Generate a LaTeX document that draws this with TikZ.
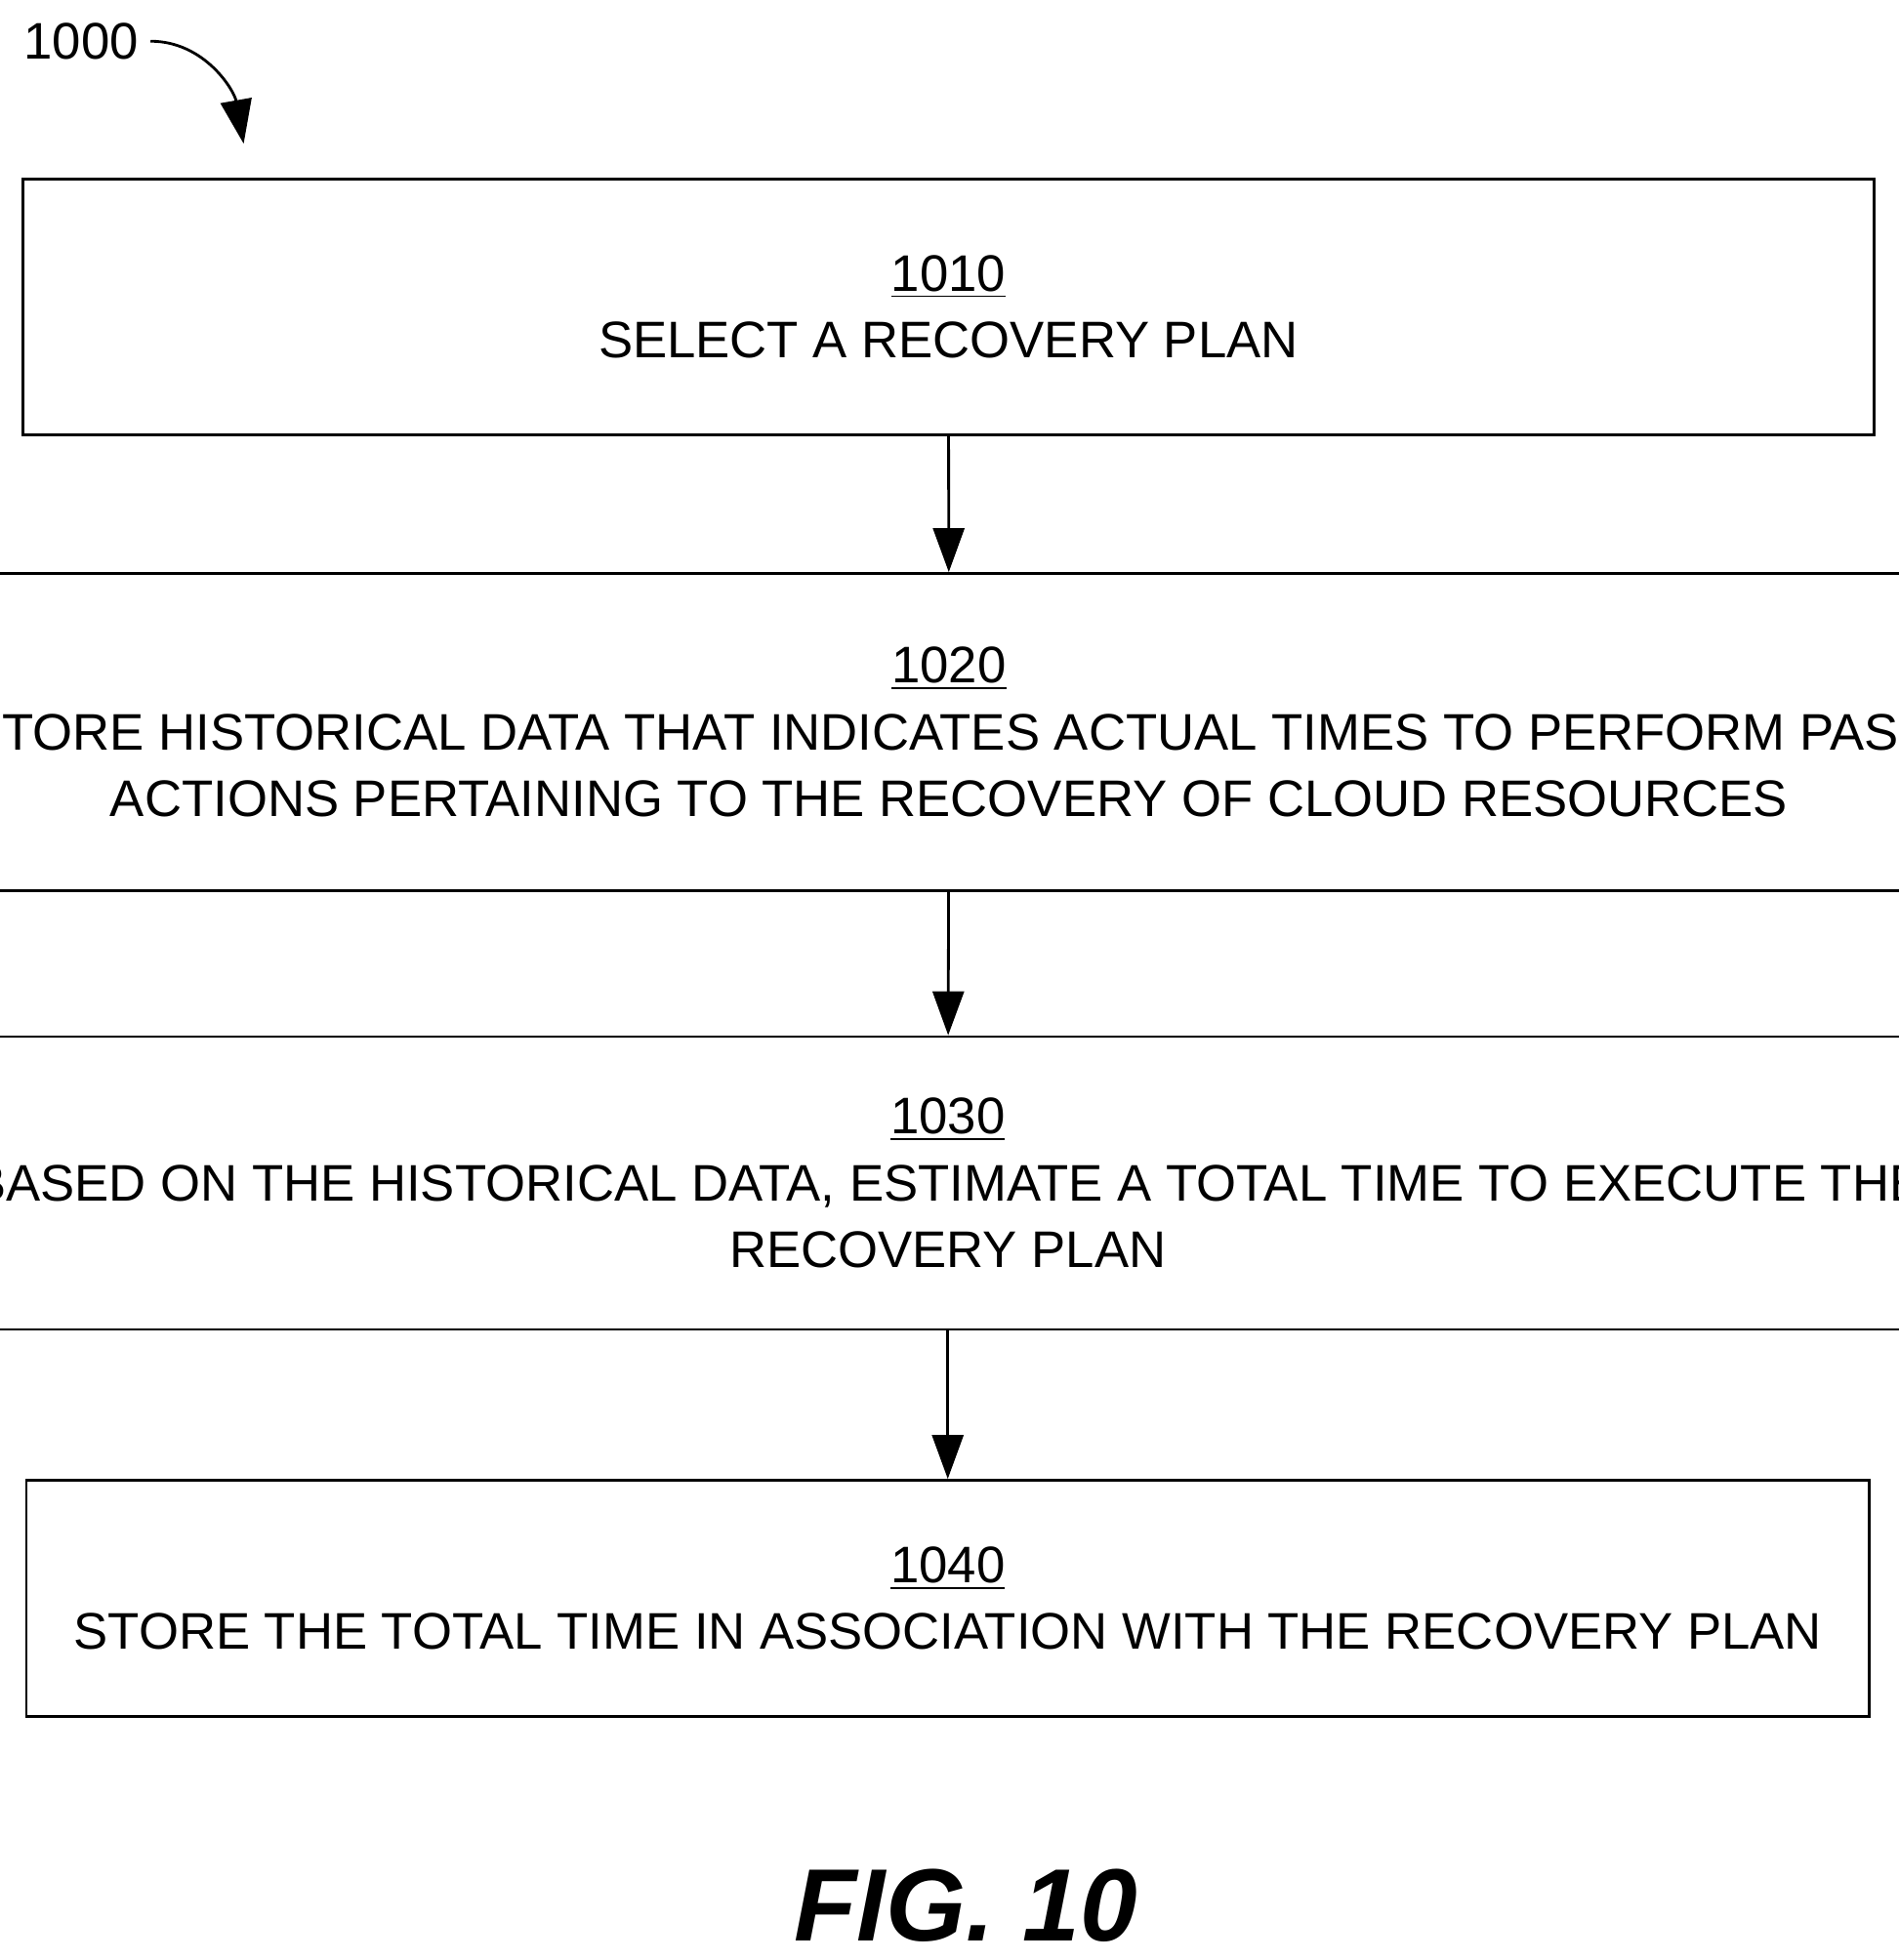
\documentclass[tikz,border=0pt]{standalone}
\usepackage{fontspec}
\setmainfont{Liberation Sans}
\usetikzlibrary{arrows.meta}

\tikzset{
    stepbox/.style={draw, line width=0.8pt, align=center, font=\fontsize{15}{19.5}\selectfont},
    flow/.style={line width=0.8pt, -{Triangle[length=0.45cm, width=0.32cm]}}
}

\begin{document}
\begin{tikzpicture}[x=0.0128cm, y=-0.0128cm]
    % page frame
    \useasboundingbox (0,0) rectangle (1519,1569);

    % reference label
    \node[font=\fontsize{15}{18}\selectfont] (ref) at (65,33) {1000};
    \coordinate (refend) at (195,115);
    \draw[flow] (ref.east) to[out=0, in=100] (refend);

    % steps
    \node[stepbox, minimum width=18.97cm, minimum height=2.62cm] (s1010) at (759,245.5)
        {\underline{1010}\\SELECT A RECOVERY PLAN};
    \node[stepbox, minimum width=18.91cm, minimum height=3.25cm] (s1020) at (759.5,586)
        {\underline{1020}\\STORE HISTORICAL DATA THAT INDICATES ACTUAL TIMES TO PERFORM PAST\\ACTIONS PERTAINING TO THE RECOVERY OF CLOUD RESOURCES};
    \node[stepbox, minimum width=18.98cm, minimum height=3.00cm] (s1030) at (758.5,947)
        {\underline{1030}\\BASED ON THE HISTORICAL DATA, ESTIMATE A TOTAL TIME TO EXECUTE THE\\RECOVERY PLAN};
    \node[stepbox, minimum width=18.88cm, minimum height=2.42cm] (s1040) at (758.5,1279.5)
        {\underline{1040}\\STORE THE TOTAL TIME IN ASSOCIATION WITH THE RECOVERY PLAN};

    % connectors
    \draw[flow] (s1010) -- (s1020);
    \draw[flow] (s1020) -- (s1030);
    \draw[flow] (s1030) -- (s1040);

    % caption
    \node[font=\fontsize{30}{36}\selectfont\bfseries\itshape] (fig) at (773,1525) {FIG. 10};
\end{tikzpicture}
\end{document}
